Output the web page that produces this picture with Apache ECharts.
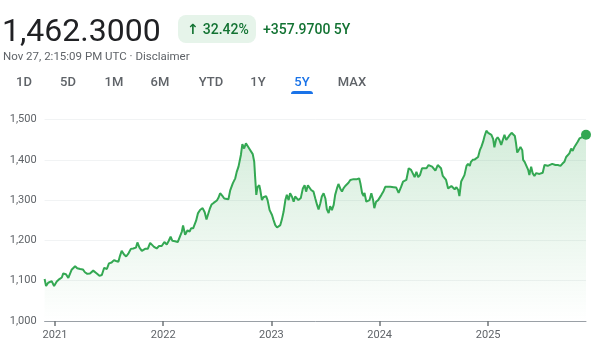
<!DOCTYPE html>
<html><head><meta charset="utf-8">
<script src="https://cdn.jsdelivr.net/npm/echarts@6/dist/echarts.min.js"></script>
<style>
html,body{margin:0;padding:0;background:#fff;}
#wrap{position:relative;width:601px;height:350px;overflow:hidden;font-family:Roboto,Arial,sans-serif;}
#chart{position:absolute;left:0;top:0;width:601px;height:350px;}
.abs{position:absolute;white-space:nowrap;}
.tab{position:absolute;top:74px;font-size:13px;line-height:16px;color:#5f6368;font-weight:500;transform:translateX(-50%);}
</style></head>
<body><div id="wrap"><div id="chart"></div>
<div class="abs" style="left:2px;top:14px;font-size:32px;line-height:32px;color:#202124;">1,462.3000</div>
<div class="abs" style="left:178px;top:15px;width:78px;height:28px;border-radius:8px;background:#e6f4ea;"></div>
<div class="abs" style="left:187px;top:21px;font-size:14px;line-height:16px;color:#137333;font-weight:500;"><span style="font-family:'DejaVu Sans';font-weight:bold;font-size:14px;margin-right:4px;">↑</span>32.42%</div>
<div class="abs" style="left:263px;top:21px;font-size:14px;line-height:16px;color:#137333;font-weight:500;">+357.9700 5Y</div>
<div class="abs" style="left:3px;top:49px;font-size:11.5px;line-height:15px;color:#5f6368;">Nov 27, 2:15:09 PM UTC · Disclaimer</div>
<div class="tab" style="left:24px;">1D</div>
<div class="tab" style="left:68px;">5D</div>
<div class="tab" style="left:114px;">1M</div>
<div class="tab" style="left:160px;">6M</div>
<div class="tab" style="left:211px;">YTD</div>
<div class="tab" style="left:258px;">1Y</div>
<div class="tab" style="left:302px;color:#1a73e8;">5Y</div>
<div class="tab" style="left:352px;">MAX</div>
<div class="abs" style="left:291px;top:91px;width:22px;height:3px;border-radius:3px 3px 0 0;background:#1a73e8;"></div>
</div>
<script>
// ---- data ----
const dates2020 = ['2020-11-27','2020-12-02','2020-12-09','2020-12-21','2020-12-29'];
const prices2020 = [1104.33,1087,1095,1099,1087];

const dates2021 = ['2021-01-07','2021-01-16','2021-01-24','2021-01-29','2021-02-07','2021-02-15','2021-02-21','2021-02-26',
 '2021-03-04','2021-03-10','2021-03-17','2021-03-27','2021-04-05','2021-04-12','2021-04-20','2021-04-29',
 '2021-05-05','2021-05-10','2021-05-16','2021-05-22','2021-05-31','2021-06-08','2021-06-16','2021-06-25',
 '2021-07-02','2021-07-11','2021-07-19','2021-07-26','2021-08-03','2021-08-08','2021-08-14','2021-08-22','2021-08-29',
 '2021-09-06','2021-09-14','2021-09-22','2021-10-01','2021-10-06','2021-10-13','2021-10-21',
 '2021-11-01','2021-11-10','2021-11-18','2021-11-24','2021-12-01','2021-12-10','2021-12-18','2021-12-27'];
const prices2021 = [1098,1104,1108,1118,1116,1107,1110,1127,
 1131,1136,1131,1129,1128,1121,1117,1118,
 1116,1125,1127,1118,1112,1114,1132,1129,
 1143,1145,1151,1149,1147,1161,1174,1165,1160,
 1168,1179,1180,1182,1195,1182,1174,
 1179,1179,1194,1196,1184,1180,1186,1186];

const dates2022 = ['2022-01-05','2022-01-13','2022-01-19','2022-01-26','2022-02-01','2022-02-10','2022-02-19','2022-02-25',
 '2022-03-05','2022-03-09','2022-03-16','2022-03-24','2022-03-31','2022-04-05','2022-04-12','2022-04-17','2022-04-22','2022-04-28',
 '2022-05-06','2022-05-14','2022-05-21','2022-05-27','2022-06-01','2022-06-07','2022-06-13','2022-06-20','2022-06-25',
 '2022-07-01','2022-07-06','2022-07-12','2022-07-19','2022-07-26','2022-08-01','2022-08-09','2022-08-15','2022-08-24',
 '2022-09-01','2022-09-06','2022-09-12','2022-09-15','2022-09-20','2022-09-25',
 '2022-10-01','2022-10-07','2022-10-12','2022-10-18','2022-10-24','2022-10-30',
 '2022-11-04','2022-11-07','2022-11-11','2022-11-15','2022-11-21','2022-11-24','2022-11-30',
 '2022-12-05','2022-12-14','2022-12-19','2022-12-26'];
const prices2022 = [1196,1190,1198,1209,1199,1198,1196,1199,
 1222,1237,1214,1225,1222,1230,1230,1233,1249,1267,
 1276,1280,1270,1252,1251,1278,1289,1293,1296,
 1299,1305,1317,1311,1304,1302,1302,1324,1342,
 1354,1370,1383,1387,1412,1439,
 1428,1441,1437,1428,1424,1414,
 1395,1358,1313,1332,1337,1327,1300,
 1307,1310,1300,1275];

const dates2023 = ['2023-01-03','2023-01-08','2023-01-14','2023-01-20','2023-01-25','2023-01-31',
 '2023-02-05','2023-02-11','2023-02-17','2023-02-22','2023-02-28','2023-03-05','2023-03-11','2023-03-17','2023-03-22','2023-03-28',
 '2023-04-02','2023-04-10','2023-04-17','2023-04-23','2023-04-28','2023-05-04','2023-05-10','2023-05-15','2023-05-23','2023-05-29',
 '2023-06-04','2023-06-09','2023-06-15','2023-06-20','2023-06-26','2023-07-02','2023-07-07','2023-07-13','2023-07-18','2023-07-24','2023-07-30',
 '2023-08-04','2023-08-10','2023-08-15','2023-08-21','2023-08-27','2023-09-01','2023-09-07','2023-09-13','2023-09-18','2023-09-24','2023-09-30',
 '2023-10-05','2023-10-11','2023-10-17','2023-10-24','2023-10-28','2023-11-03','2023-11-08','2023-11-11','2023-11-17','2023-11-23','2023-11-28',
 '2023-12-04','2023-12-10','2023-12-14','2023-12-20','2023-12-27'];
const prices2023 = [1263,1251,1238,1232,1230,1238,
 1251,1271,1300,1313,1300,1317,1309,1296,1309,1313,
 1300,1305,1329,1337,1321,1337,1340,1325,1321,1304,
 1288,1277,1292,1309,1317,1304,1277,1268,1285,1275,1288,
 1313,1329,1340,1329,1321,1329,1335,1332,1343,1350,1346,
 1352,1350,1352,1354,1342,1317,1310,1318,1296,1292,1300,
 1317,1300,1280,1296,1300];

const dates2024 = ['2024-01-02','2024-01-07','2024-01-14','2024-01-20','2024-01-26','2024-02-06','2024-02-17','2024-02-26',
 '2024-03-05','2024-03-13','2024-03-20','2024-03-31','2024-04-08','2024-04-16','2024-04-21','2024-04-28',
 '2024-05-04','2024-05-10','2024-05-16','2024-05-23','2024-05-29','2024-06-07','2024-06-14','2024-06-20','2024-06-26',
 '2024-07-01','2024-07-07','2024-07-15','2024-07-21','2024-07-26','2024-08-01','2024-08-07','2024-08-12','2024-08-19','2024-08-24','2024-08-30',
 '2024-09-05','2024-09-10','2024-09-16','2024-09-22','2024-09-26','2024-10-02','2024-10-07','2024-10-13','2024-10-20','2024-10-25','2024-10-31',
 '2024-11-04','2024-11-10','2024-11-17','2024-11-22','2024-11-28','2024-12-04','2024-12-09','2024-12-15','2024-12-20','2024-12-26'];
const prices2024 = [1298,1313,1322,1333,1337,1333,1332,1331,
 1318,1332,1346,1350,1379,1375,1379,1357,
 1370,1357,1362,1379,1383,1379,1387,1390,1383,
 1379,1373,1387,1391,1379,1360,1362,1350,1329,1325,1335,
 1334,1327,1332,1325,1310,1346,1350,1362,1385,1390,1385,
 1395,1400,1401,1400,1407,1424,1432,1445,1459,1472];

const dates2025 = ['2025-01-01','2025-01-06','2025-01-12','2025-01-18','2025-01-22','2025-01-28',
 '2025-02-02','2025-02-08','2025-02-14','2025-02-19','2025-02-25','2025-03-03','2025-03-09','2025-03-15','2025-03-21','2025-03-26',
 '2025-04-01','2025-04-05','2025-04-09','2025-04-14','2025-04-20','2025-04-26','2025-04-29',
 '2025-05-04','2025-05-10','2025-05-16','2025-05-20','2025-05-26','2025-05-31','2025-06-06','2025-06-12','2025-06-17','2025-06-23','2025-06-29',
 '2025-07-04','2025-07-10','2025-07-16','2025-07-21','2025-07-27','2025-08-05','2025-08-16','2025-08-24',
 '2025-09-02','2025-09-08','2025-09-15','2025-09-21','2025-09-27','2025-10-02','2025-10-08','2025-10-13','2025-10-19','2025-10-25','2025-10-30',
 '2025-11-05','2025-11-11','2025-11-16','2025-11-27'];
const prices2025 = [1467,1471,1462,1451,1431,1451,
 1456,1449,1437,1441,1462,1449,1451,1462,1467,1469,
 1459,1441,1418,1424,1432,1424,1400,
 1395,1398,1375,1362,1383,1367,1360,1367,1370,1365,1362,
 1368,1387,1391,1385,1387,1390,1387,1387,
 1385,1390,1395,1407,1409,1416,1428,1422,1432,1428,1445,
 1453,1451,1457,1462.3];

const yearTicks = ['2021-01-01','2022-01-01','2023-01-01','2024-01-01','2025-01-01'];
const rangeStart = '2020-11-27';
const rangeEnd = '2025-11-27';
const yMin = 1000, yMax = 1500, yStep = 100;

// ---- build ----
const ts = d => Date.parse(d + 'T00:00:00Z');
const dates = [].concat(dates2020, dates2021, dates2022, dates2023, dates2024, dates2025);
const prices = [].concat(prices2020, prices2021, prices2022, prices2023, prices2024, prices2025);
const seriesData = dates.map((d, i) => [ts(d), prices[i]]);
const last = seriesData[seriesData.length - 1];
const tickTs = yearTicks.map(ts);

const chart = echarts.init(document.getElementById('chart'), null, {renderer: 'canvas'});
chart.setOption({
  animation: false,
  textStyle: {fontFamily: 'Roboto, Arial, sans-serif'},
  grid: {left: 44.6, right: 15, top: 119.5, bottom: 29, containLabel: false, outerBoundsMode: 'none'},
  xAxis: {
    type: 'value',
    min: ts(rangeStart),
    max: ts(rangeEnd),
    axisLine: {show: true, lineStyle: {color: '#9aa0a6', width: 1}},
    axisTick: {show: true, length: 5, lineStyle: {color: '#70757a', width: 1.5}, customValues: tickTs},
    axisLabel: {
      customValues: tickTs,
      color: '#5f6368', fontSize: 11, margin: 9,
      formatter: v => String(new Date(v).getUTCFullYear())
    },
    splitLine: {show: false}
  },
  yAxis: {
    type: 'value',
    min: yMin, max: yMax, interval: yStep,
    axisLine: {show: false},
    axisTick: {show: false},
    axisLabel: {color: '#5f6368', fontSize: 11, margin: 8,
      formatter: v => v.toLocaleString('en-US')},
    splitLine: {show: true, lineStyle: {color: '#f1f3f4', width: 1}}
  },
  series: [{
    type: 'line',
    data: seriesData,
    showSymbol: false,
    smooth: false,
    lineStyle: {color: '#34a853', width: 2},
    itemStyle: {color: '#34a853'},
    areaStyle: {
      color: new echarts.graphic.LinearGradient(0, 0, 0, 1, [
        {offset: 0, color: 'rgba(52,168,83,0.30)'},
        {offset: 1, color: 'rgba(52,168,83,0.0)'}
      ])
    },
    z: 2
  }, {
    type: 'scatter',
    data: [last],
    symbol: 'circle',
    symbolSize: 10,
    itemStyle: {color: '#34a853', opacity: 1},
    clip: false,
    z: 5
  }]
});
</script>
</body></html>
